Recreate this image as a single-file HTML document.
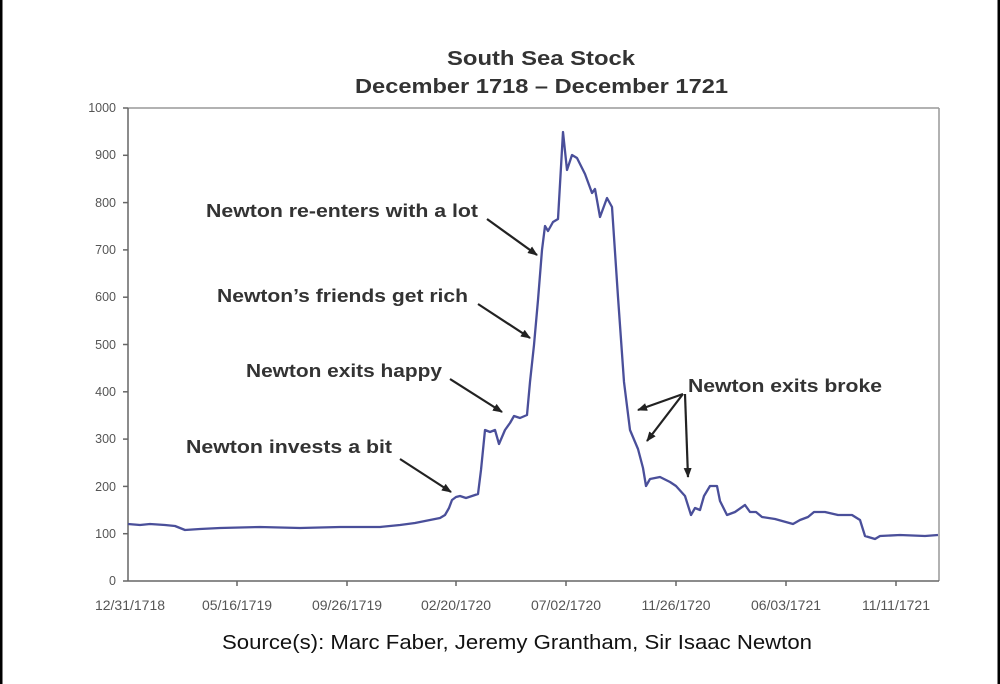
<!DOCTYPE html>
<html><head><meta charset="utf-8"><style>
body{margin:0;background:#fff;}
svg{display:block;font-family:"Liberation Sans",Arial,sans-serif;}
</style></head><body>
<svg width="1000" height="684" viewBox="0 0 1000 684" xmlns="http://www.w3.org/2000/svg">
<rect x="0" y="0" width="1000" height="684" fill="#fff"/>
<rect x="0" y="0" width="2.5" height="684" fill="#000"/>
<rect x="997.5" y="0" width="2.5" height="684" fill="#000"/>
<text x="447" y="65" font-size="20" font-weight="bold" fill="#333" textLength="188" lengthAdjust="spacingAndGlyphs">South Sea Stock</text>
<text x="355" y="93" font-size="20" font-weight="bold" fill="#333" textLength="373" lengthAdjust="spacingAndGlyphs">December 1718 – December 1721</text>
<g stroke="#999" stroke-width="1.5" fill="none">
<line x1="128" y1="108" x2="939" y2="108"/>
<line x1="939" y1="108" x2="939" y2="581"/>
</g>
<g stroke="#666" stroke-width="1.5" fill="none">
<line x1="128" y1="108" x2="128" y2="581"/>
<line x1="128" y1="581" x2="939" y2="581"/>
<line x1="123" y1="108" x2="128" y2="108"/><line x1="123" y1="155.3" x2="128" y2="155.3"/>
<line x1="123" y1="202.6" x2="128" y2="202.6"/><line x1="123" y1="249.9" x2="128" y2="249.9"/>
<line x1="123" y1="297.2" x2="128" y2="297.2"/><line x1="123" y1="344.5" x2="128" y2="344.5"/>
<line x1="123" y1="391.8" x2="128" y2="391.8"/><line x1="123" y1="439.1" x2="128" y2="439.1"/>
<line x1="123" y1="486.4" x2="128" y2="486.4"/><line x1="123" y1="533.7" x2="128" y2="533.7"/>
<line x1="123" y1="581" x2="128" y2="581"/>
<line x1="237" y1="581" x2="237" y2="586"/><line x1="347" y1="581" x2="347" y2="586"/>
<line x1="456" y1="581" x2="456" y2="586"/><line x1="566" y1="581" x2="566" y2="586"/>
<line x1="676" y1="581" x2="676" y2="586"/><line x1="786" y1="581" x2="786" y2="586"/>
<line x1="896" y1="581" x2="896" y2="586"/>
</g>
<g font-size="12.5" fill="#555" text-anchor="end">
<text x="116" y="112">1000</text><text x="116" y="159">900</text><text x="116" y="207">800</text>
<text x="116" y="254">700</text><text x="116" y="301">600</text><text x="116" y="349">500</text>
<text x="116" y="396">400</text><text x="116" y="443">300</text><text x="116" y="491">200</text>
<text x="116" y="538">100</text><text x="116" y="585">0</text>
</g>
<g font-size="14" fill="#555" text-anchor="middle">
<text x="130" y="610">12/31/1718</text><text x="237" y="610">05/16/1719</text>
<text x="347" y="610">09/26/1719</text><text x="456" y="610">02/20/1720</text>
<text x="566" y="610">07/02/1720</text><text x="676" y="610">11/26/1720</text>
<text x="786" y="610">06/03/1721</text><text x="896" y="610">11/11/1721</text>
</g>
<polyline fill="none" stroke="#4a4f9a" stroke-width="2.3" stroke-linejoin="round" points="
128,524 140,525 150,524 165,525 175,526 185,530 200,529 220,528 260,527 300,528 340,527 380,527 400,525 415,523 430,520 440,518 445,515 449,508 452,500 456,497 460,496 466,498 472,496 478,494 481,470 485,430 490,432 495,430 499,444 505,430 510,423 514,416 520,418 527,415 530,382 534,345 538,300 542,250 545,226 548,231 553,222 558,219 563,132 567,170 572,155 577,158 585,174 592,193 595,189 600,217 607,198 612,207 618,297 624,382 630,430 638,449 643,468 646,486 650,479 660,477 670,482 676,486 685,496 691,515 695,508 700,510 704,496 710,486 717,486 720,501 727,515 735,512 745,505 750,512 756,512 762,517 775,519 793,524 800,520 808,517 814,512 825,512 838,515 852,515 860,520 865,536 875,539 880,536 900,535 925,536 938,535"/>
<defs><marker id="ah" markerWidth="10" markerHeight="8" refX="9" refY="4" orient="auto" markerUnits="userSpaceOnUse"><path d="M0,0 L10,4 L0,8 z" fill="#222"/></marker></defs>
<g stroke="#222" stroke-width="2.2" marker-end="url(#ah)">
<line x1="487" y1="219" x2="537" y2="255"/>
<line x1="478" y1="304" x2="530" y2="338"/>
<line x1="450" y1="379" x2="502" y2="412"/>
<line x1="400" y1="459" x2="451" y2="492"/>
<line x1="683" y1="394" x2="638" y2="410"/>
<line x1="683" y1="394" x2="647" y2="441"/>
<line x1="685" y1="394" x2="688" y2="477"/>
</g>
<g font-size="18" font-weight="bold" fill="#333" lengthAdjust="spacingAndGlyphs">
<text x="206" y="217" textLength="272" lengthAdjust="spacingAndGlyphs">Newton re-enters with a lot</text>
<text x="217" y="302" textLength="251" lengthAdjust="spacingAndGlyphs">Newton’s friends get rich</text>
<text x="246" y="377" textLength="196" lengthAdjust="spacingAndGlyphs">Newton exits happy</text>
<text x="186" y="453" textLength="206" lengthAdjust="spacingAndGlyphs">Newton invests a bit</text>
<text x="688" y="392" textLength="194" lengthAdjust="spacingAndGlyphs">Newton exits broke</text>
</g>
<text x="222" y="649" font-size="20" fill="#111" textLength="590" lengthAdjust="spacingAndGlyphs">Source(s): Marc Faber, Jeremy Grantham, Sir Isaac Newton</text>
</svg>
</body></html>
